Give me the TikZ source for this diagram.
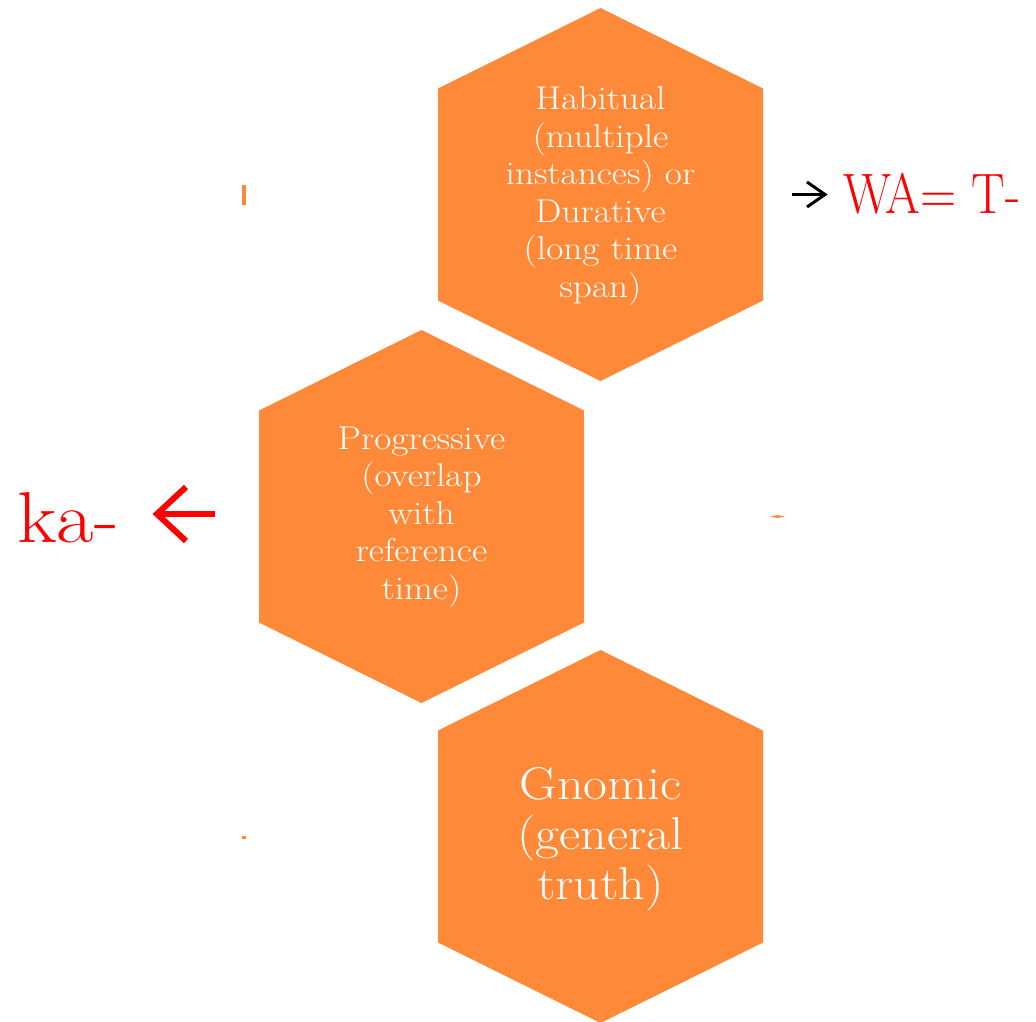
\documentclass[tikz,border=0pt]{standalone}
\usepackage{fontspec}
\setmainfont{Latin Modern Roman}[FakeStretch=1.13]
\newfontfamily\narrowlm{Latin Modern Roman}[FakeStretch=0.88]
\definecolor{hexorange}{RGB}{253,137,57}
\definecolor{labelred}{RGB}{255,0,0}
\begin{document}
\begin{tikzpicture}[x=1pt,y=-1pt,
  hexa/.pic={\fill[hexorange] (0,-186.5) -- (162.5,-106) -- (162.5,106) -- (0,186.5) -- (-162.5,106) -- (-162.5,-106) -- cycle;},
  hextext/.style={text=white,align=center,inner sep=0pt,font=\fontsize{33}{37.5}\selectfont},
  bigtext/.style={text=white,align=center,inner sep=0pt,font=\fontsize{46}{50}\selectfont},
  redlabel/.style={text=labelred,inner sep=0pt,anchor=base west},
  tinymark/.style={fill=hexorange,draw=none}]
\useasboundingbox (0,0) rectangle (1036,1021);
\clip (0,0) rectangle (1036,1021);
% hexagons
\pic at (600.5,194.5) {hexa};
\pic at (421.5,516.5) {hexa};
\pic at (600.5,836.5) {hexa};
% hexagon texts
\node[hextext] (habitual) at (600.5,196) {Habitual\\(multiple\\instances) or\\Durative\\(long time\\span)};
\node[hextext] (progressive) at (421.5,517) {Progressive\\(overlap\\with\\reference\\time)};
\node[bigtext] (gnomic) at (600.5,839) {Gnomic\\(general\\truth)};
% small marks
\fill[tinymark] (242,185) rectangle (246,205);
\fill[tinymark] (770,516.5) -- (777.5,515) -- (785,516.5) -- (777.5,518) -- cycle;
\fill[tinymark] (242,836) rectangle (246,839);
% right label
\coordinate (rtail) at (792,194.5);
\coordinate (rtip) at (825,194.5);
\draw[line width=3pt] (rtail) -- (rtip);
\draw[line width=3pt,line join=miter] (807,182) -- (rtip) -- (807,207);
\node[redlabel,font=\narrowlm\fontsize{57}{60}\selectfont] (wa) at (843,213) {WA= T-};
% left label
\node[redlabel,font=\fontsize{72}{76}\selectfont] (ka) at (17,542) {ka-};
\coordinate (ltip) at (157,514);
\coordinate (ltail) at (215,514);
\draw[draw=labelred,line width=6pt] (ltip) -- (ltail);
\draw[draw=labelred,line width=6pt,line join=miter] (186,487) -- (ltip) -- (186,541);
\end{tikzpicture}
\end{document}
